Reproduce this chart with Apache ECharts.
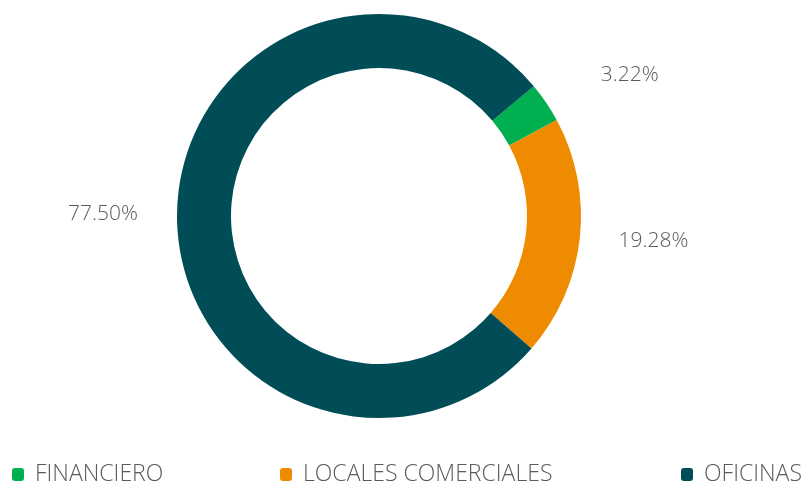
<!DOCTYPE html>
<html>
<head>
<meta charset="utf-8">
<script src="https://cdn.jsdelivr.net/npm/echarts@6/dist/echarts.min.js"></script>
<style>
  html, body { margin: 0; padding: 0; background: #fff; }
  #chart { width: 810px; height: 485px; }
</style>
</head>
<body>
<div id="chart"></div>
<script>
const categories = ['FINANCIERO', 'LOCALES COMERCIALES', 'OFICINAS'];
const values = [3.22, 19.28, 77.50];
const colors = ['#00b050', '#ee8b00', '#004d57'];
const legendLefts = [12, 280, 681];

const font = 'Open Sans';
const textColor = '#5a5a5a';
const myChart = echarts.init(document.getElementById('chart'));

const legends = categories.map((c, i) => ({
  left: legendLefts[i],
  top: 463,
  padding: 0,
  itemWidth: 12,
  itemHeight: 13,
  icon: 'roundRect',
  textStyle: { color: textColor, fontSize: 23, fontFamily: font, fontWeight: 300, padding: [0, 0, 0, 6] },
  data: [c]
}));

const option = {
  backgroundColor: '#fff',
  color: colors,
  textStyle: { fontFamily: font, fontWeight: 300 },
  legend: legends,
  series: [{
    type: 'pie',
    center: [379, 216],
    radius: [148, 202],
    startAngle: 40,
    clockwise: true,
    avoidLabelOverlap: false,
    label: {
      show: true,
      position: 'outside',
      formatter: (p) => p.value.toFixed(2) + '%',
      color: textColor,
      fontSize: 21,
      fontFamily: font,
      fontWeight: 300
    },
    labelLine: { show: false, length: 28, length2: 6 },
    emphasis: { disabled: true },
    data: categories.map((c, i) => ({
      name: c,
      value: values[i],
      labelLine: i === 0 ? { show: false, length: 48, length2: 10 } : undefined
    }))
  }]
};
myChart.setOption(option);
</script>
</body>
</html>
